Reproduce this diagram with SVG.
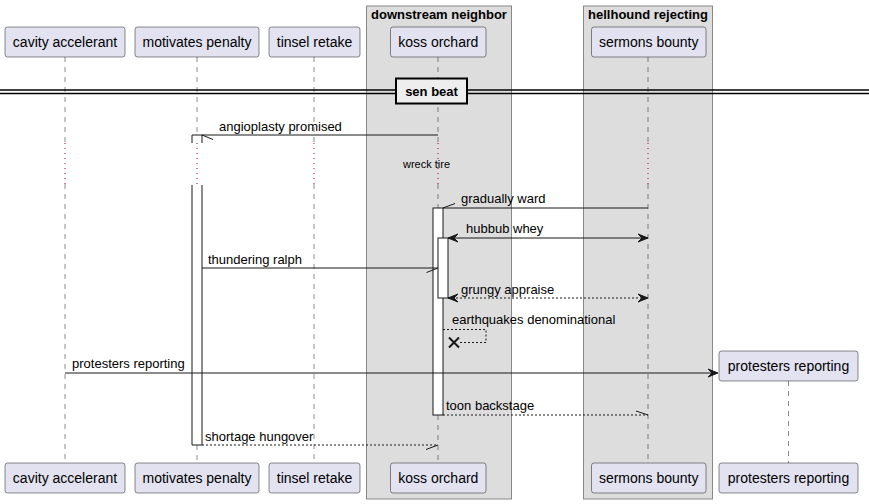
<svg xmlns="http://www.w3.org/2000/svg" width="869" height="504" viewBox="0 0 869 504">
<defs>
<style>
.grp{fill:#DDDDDD;stroke:#888888;stroke-width:1}
.gt{font-family:"Liberation Sans",Arial,sans-serif;font-size:13px;font-weight:bold;fill:#000;text-anchor:middle}
.pb{fill:#E2E2F0;stroke:#181818;stroke-width:0.5}
.pt{font-family:"Liberation Sans",Arial,sans-serif;font-size:14px;fill:#000;text-anchor:middle}
.ll{stroke:#181818;stroke-width:0.5;stroke-dasharray:5,5;fill:none}
.dl{stroke:#A80036;stroke-width:1;stroke-dasharray:1,4;fill:none}
.act{fill:#FFFFFF;stroke:#181818;stroke-width:1}
.m{stroke:#181818;stroke-width:1;fill:none}
.md{stroke:#181818;stroke-width:1;fill:none;stroke-dasharray:2,2}
.mt{font-family:"Liberation Sans",Arial,sans-serif;font-size:13px;fill:#000}
.ah{fill:#181818;stroke:#181818;stroke-width:1}
</style>
</defs>
<rect width="869" height="504" fill="#FFFFFF"/>
<g id="group-downstream-neighbor">
<rect class="grp" x="366.5" y="6" width="145" height="493"/>
<text class="gt" x="439" y="19">downstream neighbor</text>
</g>
<g id="group-hellhound-rejecting">
<rect class="grp" x="583.5" y="6" width="129" height="493"/>
<text class="gt" x="648" y="19">hellhound rejecting</text>
</g>
<g id="lifelines">
<path class="ll" d="M65,57V142M65,184V463"/>
<path class="ll" d="M197,57V135M197,445V463"/>
<path class="ll" d="M314,57V142M314,184V463"/>
<path class="ll" d="M438,57V142M438,184V208M438,415V463"/>
<path class="ll" d="M648,57V142M648,184V463"/>
<path class="ll" d="M788.5,381V463"/>
<path class="dl" d="M65,143V184M197,143V184M314,143V184M438,143V184M648,143V184"/>
</g>
<g id="divider-sen-beat">
<line x1="0" y1="90" x2="869" y2="90" stroke="#000" stroke-width="1.5"/>
<line x1="0" y1="93.5" x2="869" y2="93.5" stroke="#000" stroke-width="1.5"/>
<rect x="396" y="78.5" width="71" height="25" fill="#EEEEEE" stroke="#000" stroke-width="2"/>
<text class="gt" x="431.5" y="96">sen beat</text>
</g>
<g id="activations">
<path class="act" d="M192,143V135H202V143"/>
<path class="act" d="M192,185V445H202V185"/>
<rect class="act" x="433" y="208" width="10" height="207"/>
<rect class="act" x="438" y="238" width="10" height="60"/>
</g>
<g id="p-cavity-accelerant">
<rect class="pb" x="5" y="27" width="120" height="30" rx="2.5"/>
<text class="pt" x="65" y="47">cavity accelerant</text>
<rect class="pb" x="5" y="463" width="120" height="30" rx="2.5"/>
<text class="pt" x="65" y="483">cavity accelerant</text>
</g>
<g id="p-motivates-penalty">
<rect class="pb" x="135" y="27" width="124" height="30" rx="2.5"/>
<text class="pt" x="197" y="47">motivates penalty</text>
<rect class="pb" x="135" y="463" width="124" height="30" rx="2.5"/>
<text class="pt" x="197" y="483">motivates penalty</text>
</g>
<g id="p-tinsel-retake">
<rect class="pb" x="269" y="27" width="91" height="30" rx="2.5"/>
<text class="pt" x="314.5" y="47">tinsel retake</text>
<rect class="pb" x="269" y="463" width="91" height="30" rx="2.5"/>
<text class="pt" x="314.5" y="483">tinsel retake</text>
</g>
<g id="p-koss-orchard">
<rect class="pb" x="390.5" y="27" width="95.5" height="30" rx="2.5"/>
<text class="pt" x="438.3" y="47">koss orchard</text>
<rect class="pb" x="390.5" y="463" width="95.5" height="30" rx="2.5"/>
<text class="pt" x="438.3" y="483">koss orchard</text>
</g>
<g id="p-sermons-bounty">
<rect class="pb" x="591.5" y="27" width="114.5" height="30" rx="2.5"/>
<text class="pt" x="648.7" y="47">sermons bounty</text>
<rect class="pb" x="591.5" y="463" width="114.5" height="30" rx="2.5"/>
<text class="pt" x="648.7" y="483">sermons bounty</text>
</g>
<g id="p-protesters-reporting">
<rect class="pb" x="719" y="351" width="139" height="30" rx="2.5"/>
<text class="pt" x="788.5" y="371">protesters reporting</text>
<rect class="pb" x="719" y="463" width="139" height="30" rx="2.5"/>
<text class="pt" x="788.5" y="483">protesters reporting</text>
</g>
<g id="connectors">
<g id="m-angioplasty-promised">
<path class="m" d="M438,135H202M202,135L213,139.5"/>
<text class="mt" x="219" y="131">angioplasty promised</text>
</g>
<g id="delay-wreck-tire">
<text class="mt" x="403" y="168" style="font-size:11px">wreck tire</text>
</g>
<g id="m-gradually-ward">
<path class="m" d="M648,208H443M443,208L455,203.5"/>
<text class="mt" x="461" y="203">gradually ward</text>
</g>
<g id="m-hubbub-whey">
<path class="m" d="M448,238H648"/>
<polygon class="ah" points="448,238 458,234 454,238 458,242"/>
<polygon class="ah" points="648,238 638,234 642,238 638,242"/>
<text class="mt" x="466" y="233">hubbub whey</text>
</g>
<g id="m-thundering-ralph">
<path class="m" d="M202,268H438M438,268L426.5,272.5"/>
<text class="mt" x="208" y="264">thundering ralph</text>
</g>
<g id="m-grungy-appraise">
<path class="md" d="M448,298H648"/>
<polygon class="ah" points="448,298 458,294 454,298 458,302"/>
<polygon class="ah" points="648,298 638,294 642,298 638,302"/>
<text class="mt" x="461" y="294">grungy appraise</text>
</g>
<g id="m-earthquakes-denominational">
<path class="md" d="M443,329.5H486V342.5H458"/>
<path d="M449,337.5L459,347.5M459,337.5L449,347.5" stroke="#181818" stroke-width="2" fill="none"/>
<text class="mt" x="452" y="324">earthquakes denominational</text>
</g>
<g id="m-protesters-reporting">
<path class="m" d="M65,373H716"/>
<polygon class="ah" points="718,373 708,369 712,373 708,377"/>
<text class="mt" x="72" y="368">protesters reporting</text>
</g>
<g id="m-toon-backstage">
<path class="md" d="M443,415H648"/>
<path class="m" d="M648,415L636,411"/>
<text class="mt" x="446" y="410">toon backstage</text>
</g>
<g id="m-shortage-hungover">
<path class="md" d="M202,445H438"/>
<path class="m" d="M438,445L426,449.5"/>
<text class="mt" x="205" y="441">shortage hungover</text>
</g>
</g>
</svg>
